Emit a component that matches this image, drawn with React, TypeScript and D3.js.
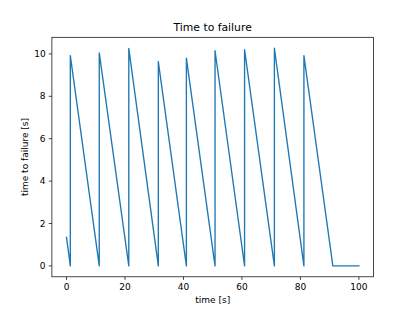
import React from 'react'
import { scaleLinear, line, max, min } from 'd3'

// time [s] and time to failure [s]
const times = [0, 1.3, 1.3, 11.2, 11.2, 21.3, 21.3, 31.4, 31.4, 41.0, 41.0, 50.8, 50.8, 60.9, 60.9, 71.1, 71.1, 81.2, 81.2, 91.1, 100]
const ttf = [1.35, 0, 9.92, 0, 10.05, 0, 10.26, 0, 9.64, 0, 9.8, 0, 10.15, 0, 10.2, 0, 10.27, 0, 9.92, 0, 0]
const xTicks = [0, 20, 40, 60, 80, 100]
const yTicks = [0, 2, 4, 6, 8, 10]

const width = 415
const height = 311
const margin = { top: 37.3, right: 41.5, bottom: 34.2, left: 51.9 }
const innerWidth = width - margin.left - margin.right
const innerHeight = height - margin.top - margin.bottom

const font = 'DejaVu Sans, sans-serif'
const tickLen = 3.15
const pad = 3.15

function App() {
  const points = times.map((t, i) => [t, ttf[i]] as [number, number])

  const xMin = min(times)!
  const xMax = max(times)!
  const xPad = (xMax - xMin) * 0.05
  const xScale = scaleLinear().domain([xMin - xPad, xMax + xPad]).range([0, innerWidth])

  const yMin = min(ttf)!
  const yMax = max(ttf)!
  const yPad = (yMax - yMin) * 0.05
  const yScale = scaleLinear().domain([yMin - yPad, yMax + yPad]).range([innerHeight, 0])

  const path = line<[number, number]>()
    .x(d => xScale(d[0]))
    .y(d => yScale(d[1]))(points)

  return (
    <svg width={width} height={height} style={{ position: 'absolute', left: 0, top: 0, background: '#fff' }}>
      <text x={margin.left + innerWidth / 2} y={margin.top - 6} textAnchor="middle" fontFamily={font} fontSize={10.8} fill="#000">
        Time to failure
      </text>
      <g transform={`translate(${margin.left},${margin.top})`}>
        <path d={path!} fill="none" stroke="#1f77b4" strokeWidth={1.35} strokeLinejoin="round" strokeLinecap="square" />
        <rect x={0} y={0} width={innerWidth} height={innerHeight} fill="none" stroke="#000" strokeWidth={0.72} />
        {xTicks.map(t => (
          <g key={t} transform={`translate(${xScale(t)},${innerHeight})`}>
            <line y2={tickLen} stroke="#000" strokeWidth={0.72} />
            <text y={tickLen + pad} dy="0.76em" textAnchor="middle" fontFamily={font} fontSize={9} fill="#000">{t}</text>
          </g>
        ))}
        {yTicks.map(t => (
          <g key={t} transform={`translate(0,${yScale(t)})`}>
            <line x2={-tickLen} stroke="#000" strokeWidth={0.72} />
            <text x={-tickLen - pad} dy="0.35em" textAnchor="end" fontFamily={font} fontSize={9} fill="#000">{t}</text>
          </g>
        ))}
        <text x={innerWidth / 2} y={innerHeight + 26.5} textAnchor="middle" fontFamily={font} fontSize={9} fill="#000">
          time [s]
        </text>
        <text transform={`translate(${-23.5},${innerHeight / 2}) rotate(-90)`} textAnchor="middle" fontFamily={font} fontSize={9} fill="#000">
          time to failure [s]
        </text>
      </g>
    </svg>
  )
}

export default App
